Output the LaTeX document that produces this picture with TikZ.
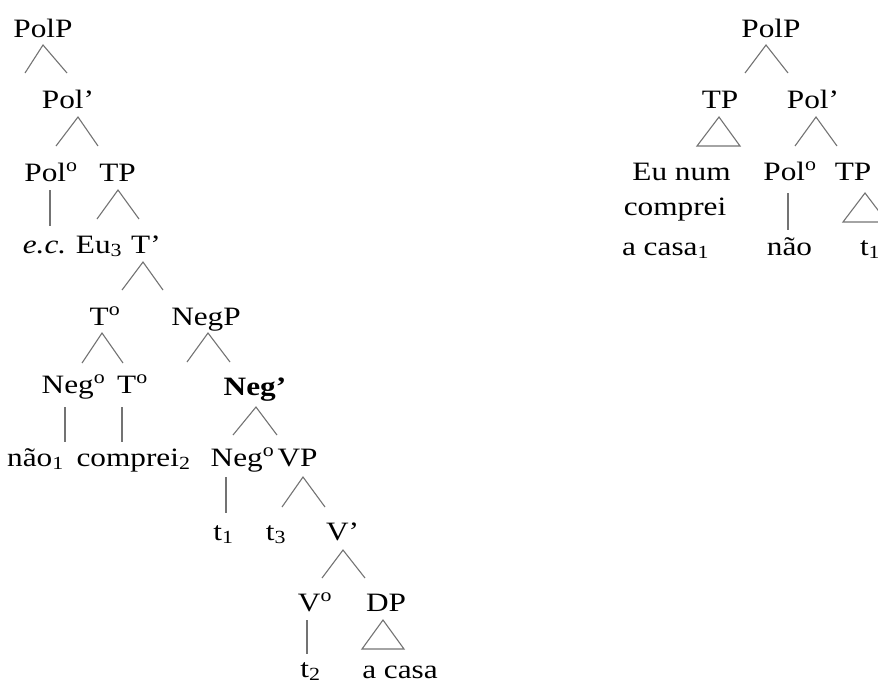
\documentclass[tikz,border=0pt]{standalone}
\usepackage{fontspec}
\setmainfont[FakeStretch=1.18]{Liberation Serif}
\newcommand{\degx}{\textsuperscript{o}}
\newcommand{\subx}[1]{\textsubscript{#1}}
\begin{document}
\begin{tikzpicture}[x=1pt,y=-1pt,
  lbl/.style={anchor=base,inner sep=0pt,outer sep=0pt,text=black,font=\fontsize{26.5}{30}\selectfont},
  br/.style={draw=black!55,line width=1.1pt}]
\useasboundingbox (0,0) rectangle (878,686);
\clip (0,0) rectangle (878,686);
% ---- left tree: labels ----
\node[lbl] (L-polp) at (43,37) {PolP};
\node[lbl] (L-polbar) at (68,108) {Pol’};
\node[lbl] (L-pol0) at (51,181) {Pol\degx};
\node[lbl] (L-tp) at (117.5,181) {TP};
\node[lbl] (L-ec) at (44.5,253) {\textit{e.c.}};
\node[lbl] (L-eu) at (99,253) {Eu\subx{3}};
\node[lbl] (L-tbar) at (146,253) {T’};
\node[lbl] (L-t0) at (105,325) {T\degx};
\node[lbl] (L-negp) at (206,325) {NegP};
\node[lbl] (L-neg0a) at (73.5,393) {Neg\degx};
\node[lbl] (L-t0b) at (132.5,393) {T\degx};
\node[lbl] (L-negbar) at (255,395) {\textbf{Neg’}};
\node[lbl] (L-nao) at (35.5,466) {não\subx{1}};
\node[lbl] (L-comprei) at (133.5,466) {comprei\subx{2}};
\node[lbl] (L-neg0b) at (242.5,466) {Neg\degx};
\node[lbl] (L-vp) at (297.5,466) {VP};
\node[lbl] (L-t1) at (223.5,540) {t\subx{1}};
\node[lbl] (L-t3) at (276,540) {t\subx{3}};
\node[lbl] (L-vbar) at (342.5,540) {V’};
\node[lbl] (L-v0) at (315,611) {V\degx};
\node[lbl] (L-dp) at (386,611) {DP};
\node[lbl] (L-t2) at (310.5,677) {t\subx{2}};
\node[lbl] (L-acasa) at (400,678) {a casa};
% ---- right tree: labels ----
\node[lbl] (R-polp) at (771,37) {PolP};
\node[lbl] (R-tp) at (720,108) {TP};
\node[lbl] (R-polbar) at (813,108) {Pol’};
\node[lbl] (R-eunum) at (681.5,180) {Eu num};
\node[lbl] (R-comprei) at (675,215) {comprei};
\node[lbl] (R-acasa) at (665.5,255) {a casa\subx{1}};
\node[lbl] (R-pol0) at (790,180) {Pol\degx};
\node[lbl] (R-tp2) at (853,180) {TP};
\node[lbl] (R-nao) at (789.5,255) {não};
\node[lbl,anchor=base west] (R-t1) at (860,255) {t\subx{1}};
% ---- branch points ----
\coordinate (a1) at (43,45);  \coordinate (a1l) at (25,73);  \coordinate (a1r) at (67,73);
\coordinate (a2) at (78,117); \coordinate (a2l) at (56,146); \coordinate (a2r) at (98,146);
\coordinate (v1) at (50,190); \coordinate (v1b) at (50,226);
\coordinate (a3) at (118,190); \coordinate (a3l) at (97,219); \coordinate (a3r) at (139,219);
\coordinate (a4) at (143,262); \coordinate (a4l) at (122,290); \coordinate (a4r) at (163,290);
\coordinate (a5) at (102,333); \coordinate (a5l) at (82,363); \coordinate (a5r) at (123,363);
\coordinate (a6) at (208,333); \coordinate (a6l) at (187,362); \coordinate (a6r) at (230,362);
\coordinate (v2) at (65,407); \coordinate (v2b) at (65,442);
\coordinate (v3) at (122,407); \coordinate (v3b) at (122,442);
\coordinate (a7) at (256,407); \coordinate (a7l) at (233,435); \coordinate (a7r) at (277,435);
\coordinate (v4) at (226,477); \coordinate (v4b) at (226,513);
\coordinate (a8) at (303,477); \coordinate (a8l) at (282,507); \coordinate (a8r) at (325,507);
\coordinate (a9) at (343,550); \coordinate (a9l) at (322,578); \coordinate (a9r) at (365,578);
\coordinate (v5) at (307,620); \coordinate (v5b) at (307,654);
\coordinate (t1) at (383,620); \coordinate (t1l) at (362,649); \coordinate (t1r) at (404,649);
\coordinate (b1) at (766,45); \coordinate (b1l) at (745,73); \coordinate (b1r) at (788,73);
\coordinate (t2) at (719,117); \coordinate (t2l) at (697,146); \coordinate (t2r) at (740,146);
\coordinate (b2) at (816,117); \coordinate (b2l) at (795,146); \coordinate (b2r) at (837,146);
\coordinate (v6) at (788,193); \coordinate (v6b) at (788,230);
\coordinate (t3) at (865,193); \coordinate (t3l) at (843,222); \coordinate (t3r) at (887,222);
% ---- branches ----
\foreach \p in {a1,a2,a3,a4,a5,a6,a7,a8,a9,b1,b2}{
  \draw[br] (\p l) -- (\p) -- (\p r);
}
\foreach \p in {v1,v2,v3,v4,v5,v6}{
  \draw[br] (\p) -- (\p b);
}
\foreach \p in {t1,t2,t3}{
  \draw[br,line join=miter] (\p) -- (\p l) -- (\p r) -- cycle;
}
\end{tikzpicture}
\end{document}
